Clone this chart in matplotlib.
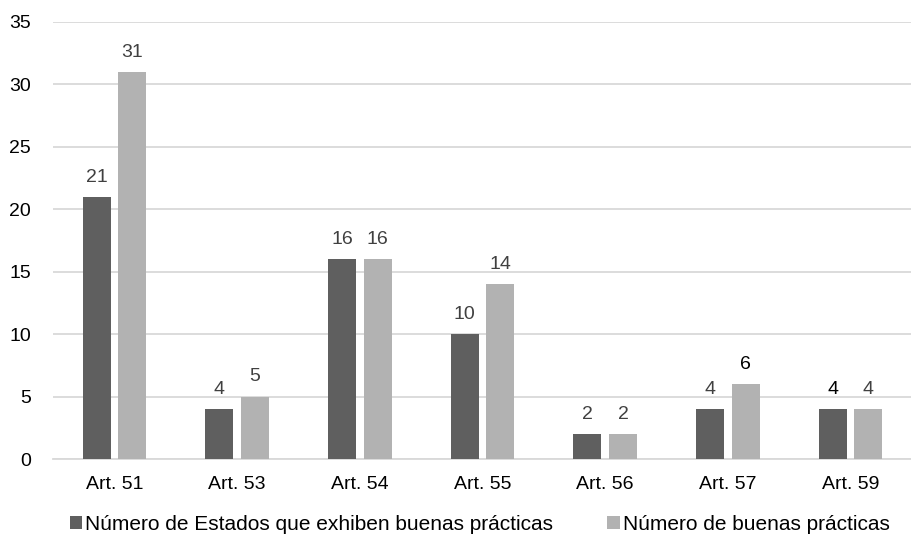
import numpy as np
import matplotlib
matplotlib.use("Agg")
import matplotlib.pyplot as plt

plt.rcParams['font.family'] = ['Liberation Sans', 'DejaVu Sans']

categories = ["Art. 51", "Art. 53", "Art. 54", "Art. 55", "Art. 56", "Art. 57", "Art. 59"]
estados = [21, 4, 16, 10, 2, 4, 4]
practicas = [31, 5, 16, 14, 2, 6, 4]
series_names = ["Número de Estados que exhiben buenas prácticas", "Número de buenas prácticas"]

dark = "#5f5f5f"
light = "#b2b2b2"
txt = "#404040"

fig = plt.figure(figsize=(9.12, 5.42), dpi=100)
ax = fig.add_axes([53 / 912, 1 - 459 / 542, (912 - 53) / 912, (459 - 22) / 542])

x = np.arange(len(categories))
w = 0.228
off = 0.145
b1 = ax.bar(x - off, estados, w, color=dark, label=series_names[0], zorder=3)
b2 = ax.bar(x + off, practicas, w, color=light, label=series_names[1], zorder=3)

# value labels (a couple are black in the original)
for i, (r, v) in enumerate(zip(b1, estados)):
    c = "black" if i == 6 else txt
    ax.text(r.get_x() + r.get_width() / 2, v + 0.9, str(v), ha="center", va="bottom",
            fontsize=14, color=c)
for i, (r, v) in enumerate(zip(b2, practicas)):
    c = "black" if i == 5 else txt
    ax.text(r.get_x() + r.get_width() / 2, v + 0.9, str(v), ha="center", va="bottom",
            fontsize=14, color=c)

ax.set_xlim(-0.5, len(categories) - 0.5)
ax.set_ylim(0, 35)
ax.set_yticks(range(0, 36, 5))
ax.set_xticks(x)
ax.set_xticklabels(categories)
ax.tick_params(axis="both", length=0, labelsize=14, colors="black")
ax.tick_params(axis="y", pad=16)
ax.tick_params(axis="x", pad=12)
ax.yaxis.grid(True, color="#d9d9d9", linewidth=1.3, zorder=0)
for s in ["top", "right", "left"]:
    ax.spines[s].set_visible(False)
ax.spines["bottom"].set_color("#d9d9d9")
ax.spines["bottom"].set_linewidth(1.3)

fig.legend(loc="center", bbox_to_anchor=(0.526, 1 - 524 / 542), ncol=2, frameon=False,
           fontsize=15, handlelength=0.6, handleheight=0.6, handletextpad=0.15,
           columnspacing=2.6)

fig.savefig("out.png", dpi=100)
